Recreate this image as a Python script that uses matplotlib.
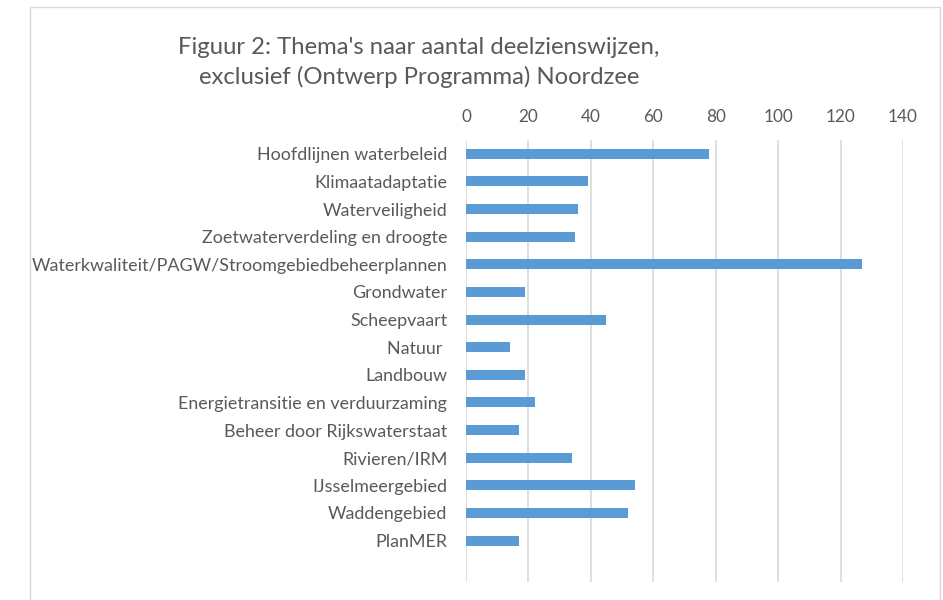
import matplotlib
matplotlib.use("Agg")
import matplotlib.pyplot as plt
from matplotlib.patches import Rectangle

categories = [
    "Hoofdlijnen waterbeleid",
    "Klimaatadaptatie",
    "Waterveiligheid",
    "Zoetwaterverdeling en droogte",
    "Waterkwaliteit/PAGW/Stroomgebiedbeheerplannen",
    "Grondwater",
    "Scheepvaart",
    "Natuur ",
    "Landbouw",
    "Energietransitie en verduurzaming",
    "Beheer door Rijkswaterstaat",
    "Rivieren/IRM",
    "IJsselmeergebied",
    "Waddengebied",
    "PlanMER",
    "",
]
values = [78, 39, 36, 35, 127, 19, 45, 14, 19, 22, 17, 34, 54, 52, 17, 0]
xticks = [0, 20, 40, 60, 80, 100, 120, 140]

plt.rcParams['font.family'] = ['Lato', 'DejaVu Sans']
txt = '#595959'

fig = plt.figure(figsize=(9.43, 6.0), dpi=100)
ax = fig.add_axes([466/943, 18/600, (903-466)/943, (600-140-18)/600])

pos = list(range(len(categories)))
ax.barh(pos, values, height=0.36, color='#5B9BD5', zorder=3)
ax.set_yticks(pos)
ax.set_yticklabels(categories, color=txt, fontsize=12.9)
ax.set_ylim(len(categories) - 0.5, -0.5)
ax.set_xlim(0, 140)
ax.set_xticks(xticks)
ax.xaxis.tick_top()
ax.tick_params(axis='x', length=0, labelsize=12.3, labelcolor=txt, pad=11)
ax.tick_params(axis='y', length=0, pad=13.5)
ax.grid(axis='x', color='#D9D9D9', linewidth=1.2, zorder=0)
for s in ax.spines.values():
    s.set_visible(False)

fig.text(419/943, 1 - 48/600, "Figuur 2: Thema's naar aantal deelzienswijzen,",
         ha='center', va='center', fontsize=17.2, color=txt)
fig.text(419/943, 1 - 77/600, "exclusief (Ontwerp Programma) Noordzee",
         ha='center', va='center', fontsize=17.2, color=txt)

fig.patches.append(Rectangle((30/943, -0.01), (940-30)/943, 1 - 7/600 + 0.01,
                             transform=fig.transFigure, fill=False,
                             edgecolor='#D9D9D9', linewidth=1))

fig.savefig("out.png", dpi=100)
